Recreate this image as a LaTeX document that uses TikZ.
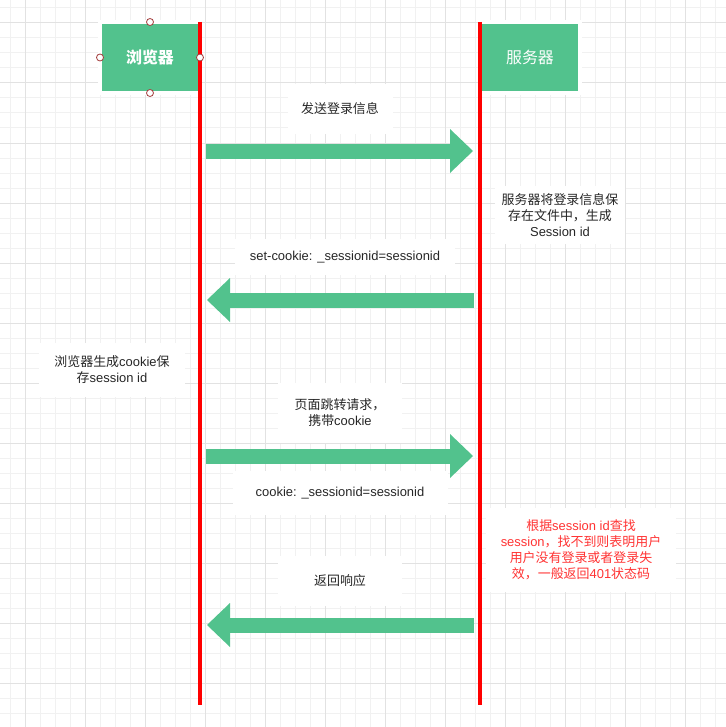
\documentclass[tikz,border=0pt]{standalone}
\usepackage{fontspec}
\setmainfont{Liberation Sans}
\newfontfamily\cjk{Noto Sans CJK SC}
\usetikzlibrary{arrows.meta}
\definecolor{boxgreen}{HTML}{52C28D}
\definecolor{gridminor}{HTML}{F1F1F1}
\definecolor{gridmajor}{HTML}{E2E2E2}
\definecolor{notered}{HTML}{FF3333}
\definecolor{handlered}{HTML}{A33B3B}
\newcommand{\zh}[1]{{\cjk #1}}
\tikzset{
  actor/.style={fill=boxgreen, draw=white, line width=4bp, outer sep=0pt,
    minimum width=100bp, minimum height=71bp, text=white,
    font=\cjk\fontsize{16}{18}\selectfont},
  lifeline/.style={red, line width=4bp},
  msg/.style={boxgreen, line width=15bp,
    -{Triangle[length=23bp,width=44bp,line width=0pt]},
    shorten <=6bp, shorten >=7bp},
  note/.style={fill=white, align=center, text=black!85, inner sep=0pt,
    font=\fontsize{13}{16}\selectfont},
  handle/.style={circle, draw=handlered, fill=white, line width=0.8bp,
    minimum size=7bp, inner sep=0pt},
}
\begin{document}
\begin{tikzpicture}[x=1bp,y=-1bp]
  \useasboundingbox (0,0) rectangle (726,727);
  \fill[white] (0,0) rectangle (726,727);
  % grid
  \foreach \i in {0,...,48}{
    \draw[gridminor, line width=1bp] (10+15*\i,0) -- (10+15*\i,727);
    \draw[gridminor, line width=1bp] (0,8+15*\i) -- (726,8+15*\i);
  }
  \foreach \i in {0,...,11}{
    \draw[gridmajor, line width=1bp] (25+60*\i,0) -- (25+60*\i,727);
    \draw[gridmajor, line width=1bp] (0,23+60*\i) -- (726,23+60*\i);
  }

  \node[actor, font=\cjk\bfseries\fontsize{16}{18}\selectfont] (browser) at (150,57.5) {浏览器};
  \node[actor] (server) at (530,57.5) {服务器};

  \coordinate (btop) at (200,22);
  \coordinate (bbot) at (200,705);
  \coordinate (stop) at (480,22);
  \coordinate (sbot) at (480,705);
  \foreach \n/\y in {1/151,2/300,3/456,4/625}{
    \coordinate (b\n) at (200,\y);
    \coordinate (s\n) at (480,\y);
  }

  % labels
  \node[note, minimum width=105bp, minimum height=50bp] (login) at (340,109) {\zh{发送登录信息}};
  \node[note, minimum width=130bp, minimum height=58bp] (save) at (560,215)
    {\zh{服务器将登录信息保}\\\zh{存在文件中，生成}\\Session id};
  \node[note, minimum width=220bp, minimum height=36bp] (setck) at (345,257) {set-cookie: \_sessionid=sessionid};
  \node[note, minimum width=145bp, minimum height=54bp] (store) at (112,370)
    {\zh{浏览器生成}cookie\zh{保}\\\zh{存}session id};
  \node[note, minimum width=124bp, minimum height=60bp] (jump) at (340,413)
    {\zh{页面跳转请求，}\\\zh{携带}cookie};
  \node[note, minimum width=215bp, minimum height=44bp] (ck) at (340,493) {cookie: \_sessionid=sessionid};
  \node[note, text=notered, minimum width=190bp, minimum height=84bp] (check) at (581,550)
    {\zh{根据}session id\zh{查找}\\session\zh{，找不到则表明用户}\\\zh{用户没有登录或者登录失}\\\zh{效，一般返回}401\zh{状态码}};
  \node[note, minimum width=124bp, minimum height=50bp] (resp) at (340,581) {\zh{返回响应}};

  % messages
  \draw[msg] (b1) -- (s1);
  \draw[msg] (s2) -- (b2);
  \draw[msg] (b3) -- (s3);
  \draw[msg] (s4) -- (b4);

  % lifelines
  \draw[lifeline] (btop) -- (bbot);
  \draw[lifeline] (stop) -- (sbot);

  \foreach \a in {north,south,east,west}
    \node[handle] (h\a) at (browser.\a) {};
\end{tikzpicture}
\end{document}
